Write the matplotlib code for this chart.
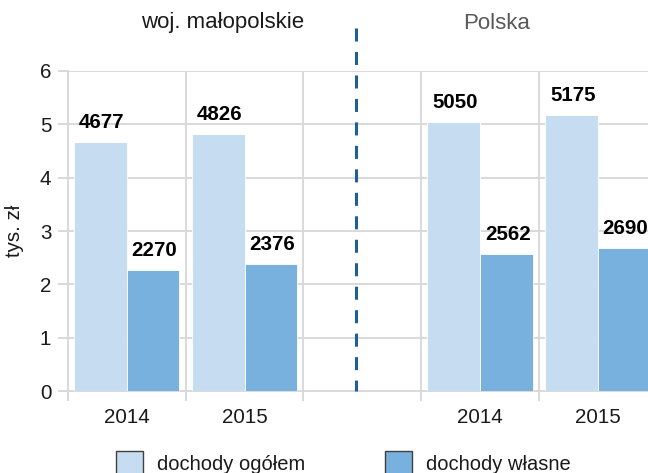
import matplotlib
matplotlib.use("Agg")
import matplotlib.pyplot as plt
from matplotlib.patches import Rectangle
import numpy as np

plt.rcParams['font.family'] = ['Liberation Sans', 'DejaVu Sans']
plt.rcParams['lines.scale_dashes'] = False

# Data
categories = ["2014", "2015", "", "2014", "2015"]
ogolem = [4677, 4826, None, 5050, 5175]
wlasne = [2270, 2376, None, 2562, 2690]
series_names = ["dochody ogółem", "dochody własne"]
group_names = ["woj. małopolskie", "Polska"]
yticks = [0, 1, 2, 3, 4, 5, 6]

c_light = "#c6ddf1"
c_dark = "#79b1de"
grid_c = "#d9d9d9"

W, H = 648, 473
fig = plt.figure(figsize=(W / 100, H / 100), dpi=100)
ax = fig.add_axes([68 / W, (H - 391) / H, (656.5 - 68) / W, (391 - 71) / H])

x = np.arange(len(categories))
bw = 0.447
off = 0.2235
for i in range(len(categories)):
    if ogolem[i] is None:
        continue
    v1 = ogolem[i] / 1000
    v2 = wlasne[i] / 1000
    ax.bar(x[i] - off, v1, bw, color=c_light, edgecolor="white", linewidth=0.6, zorder=3)
    ax.bar(x[i] + off, v2, bw, color=c_dark, edgecolor="white", linewidth=0.6, zorder=3)
    for xx, vv, lab in [(x[i] - off, v1, ogolem[i]), (x[i] + off, v2, wlasne[i])]:
        ax.annotate(str(lab), (xx, vv), xytext=(1, 10), textcoords="offset points",
                    ha="center", va="baseline", fontsize=14.8, fontweight="bold",
                    color="black", zorder=5, annotation_clip=False)

ax.set_xlim(-0.5, len(categories) - 0.5)
ax.set_ylim(0, 6)
ax.set_yticks(yticks)
ax.set_yticklabels([str(t) for t in yticks], fontsize=14.8, color="#1a1a1a")
ax.set_xticks(x)
ax.set_xticklabels(categories, fontsize=14.8, color="#1a1a1a")
ax.set_xticks(np.arange(-0.5, len(categories) + 0.5, 1.0), minor=True)
ax.tick_params(axis="x", which="major", length=0, pad=12)
ax.tick_params(axis="x", which="minor", length=7, width=1.4, color=grid_c)
ax.tick_params(axis="y", length=7, width=1.4, color=grid_c, pad=5)

ax.grid(axis="y", which="major", color=grid_c, linewidth=1.4, zorder=0)
ax.grid(axis="x", which="minor", color=grid_c, linewidth=1.4, zorder=0)
for s in ["top", "right"]:
    ax.spines[s].set_visible(False)
for s in ["left", "bottom"]:
    ax.spines[s].set_color(grid_c)
    ax.spines[s].set_linewidth(1.4)

ylab = ax.set_ylabel("tys. zł", fontsize=14.8, color="#1a1a1a")
ylab.set_verticalalignment("center")
ax.yaxis.set_label_coords(-53 / (656.5 - 68), 0.5)

# Dashed separator
ax.plot([1.944, 1.944], [6.81, 0], color="#1f5f99", linewidth=2.2,
        dashes=(9.4, 7.5), clip_on=False, zorder=4)

# Group titles
fig.text(223 / W, (H - 28) / H, group_names[0], ha="center", va="baseline",
         fontsize=16, color="#1a1a1a")
fig.text(497 / W, (H - 29) / H, group_names[1], ha="center", va="baseline",
         fontsize=16, color="#595959")

# Legend
for (px, tx, col, name) in [(116, 156.7, c_light, series_names[0]),
                            (385, 425.5, c_dark, series_names[1])]:
    fig.patches.append(Rectangle((px / W, (H - 476) / H), 26.7 / W, 25 / H,
                                 transform=fig.transFigure, facecolor=col,
                                 edgecolor="#404040", linewidth=1.0))
    fig.text(tx / W, (H - 469.5) / H, name, ha="left", va="baseline",
             fontsize=14.5, color="#1a1a1a")

fig.savefig("out.png", dpi=100)
